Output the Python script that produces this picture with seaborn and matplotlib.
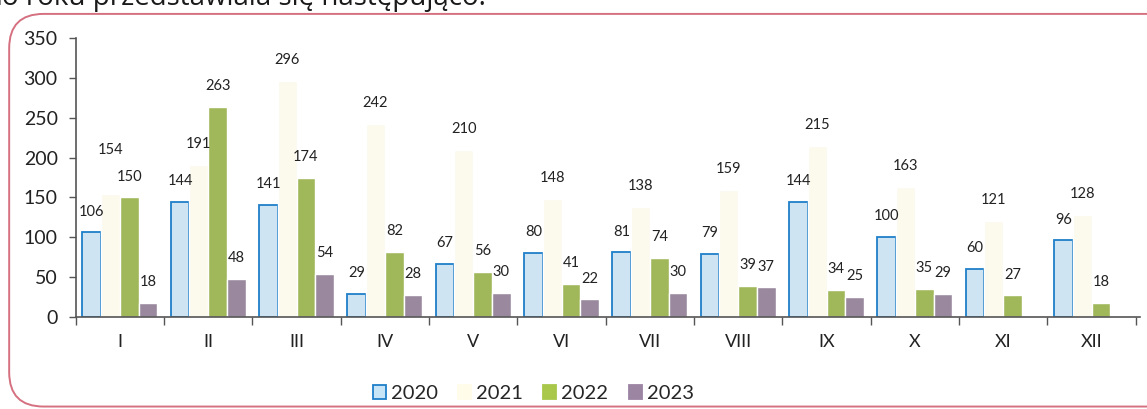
import pandas as pd
import numpy as np
import matplotlib
matplotlib.use('Agg')
import matplotlib.pyplot as plt
from matplotlib.patches import FancyBboxPatch
import seaborn as sns

months = ['I', 'II', 'III', 'IV', 'V', 'VI', 'VII', 'VIII', 'IX', 'X', 'XI', 'XII']
years = ['2020', '2021', '2022', '2023']
v2020 = [106, 144, 141, 29, 67, 80, 81, 79, 144, 100, 60, 96]
v2021 = [154, 191, 296, 242, 210, 148, 138, 159, 215, 163, 121, 128]
v2022 = [150, 263, 174, 82, 56, 41, 74, 39, 34, 35, 27, 18]
v2023 = [18, 48, 54, 28, 30, 22, 30, 37, 25, 29, np.nan, np.nan]

colors = {'2020': '#c8e5f8', '2021': '#fffcea', '2022': '#a8c74b', '2023': '#9c85a2'}

df = pd.DataFrame({
    'Month': months * 4,
    'Year': sum([[y] * 12 for y in years], []),
    'Value': v2020 + v2021 + v2022 + v2023,
})

sns.set_theme(style='white')
plt.rcParams['font.family'] = ['Lato', 'DejaVu Sans']

fig = plt.figure(figsize=(11.47, 4.09), dpi=100)
ax = fig.add_axes([0.066, 0.225, 0.928, 0.682])

sns.barplot(data=df, x='Month', y='Value', hue='Year', palette=colors,
            order=months, hue_order=years, errorbar=None, width=0.85,
            legend=False, ax=ax)

# blue outline on the 2020 bars
for p in ax.containers[0]:
    p.set_edgecolor('#1f7fc9')
    p.set_linewidth(1.3)

labels = []
for c in ax.containers:
    labels.append(ax.bar_label(c, padding=10, fontsize=10.5, color='#222222'))

# the 2021 label in January sits higher so it clears the 2022 one
labels[1][0].xyann = (0, 27)

ax.set_ylim(0, 350)
ax.set_yticks(range(0, 351, 50))
ax.set_xlim(-0.5, 11.55)
ax.set_xlabel('')
ax.set_ylabel('')
ax.tick_params(axis='y', labelsize=14, length=5, width=1, color='#555555',
               left=True, pad=8, labelcolor='#222222')
ax.tick_params(axis='x', which='major', labelsize=13, length=0, pad=12,
               labelcolor='#222222')
ax.set_xticks(np.arange(-0.5, 12, 1), minor=True)
ax.tick_params(axis='x', which='minor', bottom=True, length=6, width=1,
               color='#555555')
for s in ['top', 'right']:
    ax.spines[s].set_visible(False)
for s in ['left', 'bottom']:
    ax.spines[s].set_color('#555555')
    ax.spines[s].set_linewidth(1.2)

handles = [plt.Rectangle((0, 0), 1, 1, facecolor=colors[y],
                         edgecolor='#1f7fc9' if y == '2020' else colors[y],
                         linewidth=1.3) for y in years]
fig.legend(handles, years, loc='center', bbox_to_anchor=(0.465, 0.038),
           ncol=4, frameon=False, fontsize=14.5, handlelength=0.65,
           handleheight=0.65, handletextpad=0.25, columnspacing=1.0)

frame = FancyBboxPatch((0.008, 0.006), 1.2, 0.96, transform=fig.transFigure,
                       boxstyle='round,pad=0,rounding_size=0.03',
                       facecolor='none', edgecolor='#d57080', linewidth=1.4,
                       mutation_aspect=2.8)
fig.patches.append(frame)

fig.text(-0.004, 1 - 5 / 409, 'ło roku przedstawiała się następująco:',
         fontsize=20, va='baseline', ha='left', color='#1a1a1a',
         family=['Open Sans', 'DejaVu Sans'])

fig.savefig('out.png', dpi=100)
